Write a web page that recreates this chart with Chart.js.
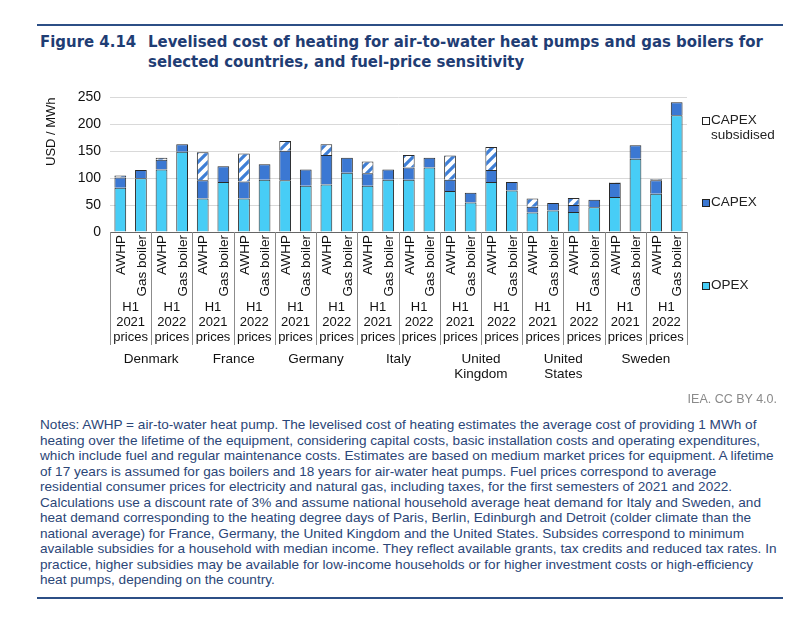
<!DOCTYPE html>
<html>
<head>
<meta charset="utf-8">
<script src="https://cdn.jsdelivr.net/npm/chart.js@4.4.1/dist/chart.umd.min.js"></script>
<style>
  body { margin: 0; width: 800px; height: 621px; background: #fff; position: relative; font-family: 'Liberation Sans', Arial, sans-serif; overflow: hidden; }
  .rule { position: absolute; left: 37px; width: 746px; height: 2px; background: #2c4f86; }
  #title { position: absolute; left: 40px; top: 32px; font-family: 'Liberation Sans Narrow', 'DejaVu Sans Condensed', Arial, sans-serif; font-weight: bold; font-size: 16.6px; line-height: 20px; color: #1f3d74; }
  #title .num { position: absolute; left: 0; top: 0; white-space: nowrap; }
  #title .txt { position: absolute; left: 108px; top: 0; white-space: nowrap; }
  #chart-wrap { position: absolute; left: 0; top: 80px; width: 800px; height: 320px; }
  .leg { position: absolute; left: 702px; font-size: 13.5px; line-height: 15px; color: #222; }
  .leg i { position: absolute; left: 0; top: 5px; width: 6px; height: 6px; border: 1px solid #222; }
  .leg span { display: block; margin-left: 9px; }
  #credit { position: absolute; right: 23px; top: 392px; font-size: 12.5px; color: #8a8a8a; }
  #notes { position: absolute; left: 40px; top: 417px; font-size: 13.6px; line-height: 15.5px; color: #2b4677; white-space: nowrap; }
</style>
</head>
<body>
<div class="rule" style="top:24px"></div>
<div id="title">
  <div class="num">Figure 4.14</div>
  <div class="txt">Levelised cost of heating for air-to-water heat pumps and gas boilers for<br>selected countries, and fuel-price sensitivity</div>
</div>

<div id="chart-wrap"><canvas id="lcoh-chart"></canvas></div>

<div class="leg" style="top:112px"><i style="background:#fff"></i><span>CAPEX<br>subsidised</span></div>
<div class="leg" style="top:194px"><i style="background:#3b78d3"></i><span>CAPEX</span></div>
<div class="leg" style="top:277px"><i style="background:#47cdf6"></i><span>OPEX</span></div>

<div id="credit">IEA. CC BY 4.0.</div>
<div id="notes">
Notes: AWHP = air-to-water heat pump. The levelised cost of heating estimates the average cost of providing 1 MWh of<br>
heating over the lifetime of the equipment, considering capital costs, basic installation costs and operating expenditures,<br>
which include fuel and regular maintenance costs. Estimates are based on medium market prices for equipment. A lifetime<br>
of 17 years is assumed for gas boilers and 18 years for air-water heat pumps. Fuel prices correspond to average<br>
residential consumer prices for electricity and natural gas, including taxes, for the first semesters of 2021 and 2022.<br>
Calculations use a discount rate of 3% and assume national household average heat demand for Italy and Sweden, and<br>
heat demand corresponding to the heating degree days of Paris, Berlin, Edinburgh and Detroit (colder climate than the<br>
national average) for France, Germany, the United Kingdom and the United States. Subsides correspond to minimum<br>
available subsidies for a household with median income. They reflect available grants, tax credits and reduced tax rates. In<br>
practice, higher subsidies may be available for low-income households or for higher investment costs or high-efficiency<br>
heat pumps, depending on the country.
</div>
<div class="rule" style="top:597px"></div>

<script>
// Chart data
const countries = [['Denmark'], ['France'], ['Germany'], ['Italy'], ['United', 'Kingdom'], ['United', 'States'], ['Sweden']];
const priceYears = ['2021', '2022'];
const techs = ['AWHP', 'Gas boiler'];
const yTicks = [0, 50, 100, 150, 200, 250];

// one value per bar: country -> price year -> AWHP, Gas boiler
const opex = [82, 100, 116, 149, 62, 93, 62, 97, 96, 86, 88, 110, 86, 97, 97, 120, 76, 55, 93, 77, 36, 40, 37, 46, 65, 136, 71, 217];
const capex = [19, 15, 18, 14, 34, 29, 32, 29, 55, 30, 55, 28, 23, 19, 23, 18, 21, 18, 22, 16, 11, 14, 13, 14, 26, 25, 25, 24];
const capexSubsidised = [4, null, 4, null, 52, null, 52, null, 18, null, 20, null, 22, null, 23, null, 45, null, 43, null, 15, null, 13, null, 1, null, 2, null];

const labels = [];
countries.forEach(c => priceYears.forEach(y => techs.forEach(t => labels.push(t))));

const FONT = "'Liberation Sans', Arial, sans-serif";

// white with blue diagonal stripes
function makeStripes() {
    const size = 10;
    const c = document.createElement('canvas');
    c.width = size; c.height = size;
    const g = c.getContext('2d');
    g.fillStyle = '#ffffff';
    g.fillRect(0, 0, size, size);
    g.strokeStyle = '#3f7fd6';
    g.lineWidth = 3.2;
    g.beginPath();
    g.moveTo(-2, size + 2); g.lineTo(size + 2, -2);
    g.moveTo(-2, 2); g.lineTo(2, -2);
    g.moveTo(size - 2, size + 2); g.lineTo(size + 2, size - 2);
    g.stroke();
    return g.createPattern(c, 'repeat');
}

// draws the rotated bar labels, price-year boxes and country names under the axis
const categoryLabels = {
    id: 'categoryLabels',
    afterDraw(chart) {
        const ctx = chart.ctx;
        const x = chart.scales.x;
        const base = chart.chartArea.bottom;
        const half = (x.getPixelForValue(1) - x.getPixelForValue(0)) / 2;
        ctx.save();
        ctx.fillStyle = '#111';

        ctx.font = '13.5px ' + FONT;
        labels.forEach((lab, i) => {
            const px = x.getPixelForValue(i);
            ctx.save();
            ctx.translate(px + 1, base + 3);
            ctx.rotate(-Math.PI / 2);
            ctx.textAlign = 'right';
            ctx.textBaseline = 'middle';
            ctx.fillText(lab, 0, 0);
            ctx.restore();
        });

        ctx.font = '13px ' + FONT;
        ctx.textAlign = 'center';
        ctx.textBaseline = 'middle';
        const nPairs = labels.length / 2;
        for (let p = 0; p < nPairs; p++) {
            const cx = (x.getPixelForValue(2 * p) + x.getPixelForValue(2 * p + 1)) / 2;
            ctx.fillText('H1', cx, base + 75);
            ctx.fillText(priceYears[p % 2], cx, base + 90);
            ctx.fillText('prices', cx, base + 105);
        }

        ctx.strokeStyle = '#8c8c8c';
        ctx.lineWidth = 1;
        for (let p = 0; p <= nPairs; p++) {
            const bx = Math.round(p < nPairs ? x.getPixelForValue(2 * p) - half : x.getPixelForValue(labels.length - 1) + half) + 0.5;
            ctx.beginPath();
            ctx.moveTo(bx, base);
            ctx.lineTo(bx, base + 113);
            ctx.stroke();
        }

        ctx.font = '13.5px ' + FONT;
        countries.forEach((name, c) => {
            const cx = (x.getPixelForValue(4 * c + 1) + x.getPixelForValue(4 * c + 2)) / 2;
            name.forEach((line, k) => ctx.fillText(line, cx, base + 127 + k * 15));
        });
        ctx.restore();
    }
};

function buildChart() {
    const ctx = document.getElementById('lcoh-chart').getContext('2d');
    const common = { borderColor: '#2a2a2a', borderWidth: 1, barPercentage: 0.57, categoryPercentage: 1 };
    new Chart(ctx, {
        type: 'bar',
        data: {
            labels: labels,
            datasets: [
                Object.assign({ label: 'OPEX', data: opex, backgroundColor: '#47cdf6' }, common),
                Object.assign({ label: 'CAPEX', data: capex, backgroundColor: '#3b78d3' }, common),
                Object.assign({ label: 'CAPEX subsidised', data: capexSubsidised, backgroundColor: makeStripes() }, common)
            ]
        },
        options: {
            responsive: true,
            maintainAspectRatio: false,
            animation: false,
            layout: { padding: { left: 40, right: 113, top: 9, bottom: 168 } },
            plugins: { legend: { display: false }, tooltip: { enabled: false } },
            scales: {
                x: {
                    stacked: true,
                    ticks: { display: false },
                    grid: { display: false },
                    border: { display: true, color: '#666' },
                    afterFit: s => { s.height = 0; }
                },
                y: {
                    stacked: true,
                    min: 0,
                    max: 250,
                    afterBuildTicks: s => { s.ticks = yTicks.map(v => ({ value: v })); },
                    ticks: { color: '#111', font: { family: FONT, size: 14 }, padding: 9 },
                    grid: { color: '#d9d9d9', drawTicks: false },
                    border: { display: false },
                    title: { display: true, text: 'USD / MWh', align: 'end', color: '#111', font: { family: FONT, size: 13 }, padding: { top: 4, bottom: 0 } },
                    afterFit: s => { s.width = 70; }
                }
            }
        },
        plugins: [categoryLabels]
    });
}

document.addEventListener('DOMContentLoaded', buildChart);
</script>
</body>
</html>
